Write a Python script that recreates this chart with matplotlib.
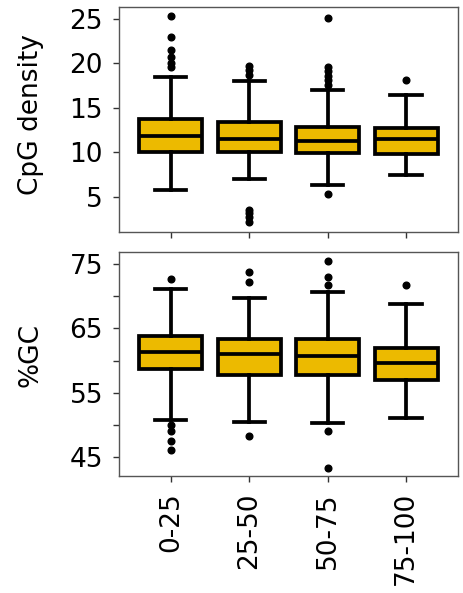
import matplotlib
matplotlib.use("Agg")
import matplotlib.pyplot as plt

# categories (x groups)
groups = ["0-25", "25-50", "50-75", "75-100"]

# CpG density box stats: lower whisker, Q1, median, Q3, upper whisker
cpg_whislo = [5.8, 7.0, 6.4, 7.5]
cpg_q1 = [10.1, 10.0, 9.9, 9.8]
cpg_med = [11.8, 11.5, 11.3, 11.5]
cpg_q3 = [13.8, 13.4, 12.9, 12.8]
cpg_whishi = [18.5, 18.0, 17.0, 16.5]
cpg_fliers = [
    [25.3, 23.0, 21.5, 20.7, 20.0, 19.6],
    [19.7, 19.2, 18.7, 3.6, 3.2, 2.8, 2.2],
    [25.1, 19.6, 19.1, 18.6, 18.1, 17.6, 5.3],
    [18.1],
]

# %GC box stats
gc_whislo = [50.7, 50.4, 50.3, 51.0]
gc_q1 = [58.7, 57.7, 57.7, 56.9]
gc_med = [61.4, 61.0, 60.7, 59.6]
gc_q3 = [63.9, 63.4, 63.4, 62.0]
gc_whishi = [71.2, 69.8, 70.6, 68.8]
gc_fliers = [
    [72.7, 50.0, 49.0, 47.4, 46.0],
    [73.8, 72.3, 48.2],
    [75.5, 73.0, 71.7, 49.0, 43.2],
    [71.8],
]

box_color = "#ECBA00"
fs = 19


def make_stats(lo, q1, med, q3, hi, fl):
    out = []
    for i in range(len(lo)):
        out.append(dict(whislo=lo[i], q1=q1[i], med=med[i], q3=q3[i],
                        whishi=hi[i], fliers=fl[i]))
    return out


def draw(ax, stats):
    lw = 2.7
    ax.bxp(stats, positions=range(1, len(stats) + 1), widths=0.8,
           patch_artist=True, capwidths=0.4,
           boxprops=dict(facecolor=box_color, edgecolor="black", linewidth=lw),
           medianprops=dict(color="black", linewidth=lw),
           whiskerprops=dict(color="black", linewidth=lw),
           capprops=dict(color="black", linewidth=lw),
           flierprops=dict(marker="o", markerfacecolor="black",
                           markeredgecolor="black", markersize=4.8))
    ax.set_xlim(0.34, 4.66)
    for s in ax.spines.values():
        s.set_color("#555555")
        s.set_linewidth(1.0)
    ax.tick_params(axis="both", length=4.5, width=1, color="#333333",
                   labelsize=fs, pad=7)


fig = plt.figure(figsize=(4.63, 5.93), dpi=100)
ax1 = fig.add_axes([0.257, 0.609, 0.732, 0.379])
ax2 = fig.add_axes([0.257, 0.197, 0.732, 0.378])

draw(ax1, make_stats(cpg_whislo, cpg_q1, cpg_med, cpg_q3, cpg_whishi, cpg_fliers))
ax1.set_ylim(1.1, 26.3)
ax1.set_yticks([5, 10, 15, 20, 25])
ax1.set_xticks([1, 2, 3, 4])
ax1.set_xticklabels([])
ax1.set_ylabel("CpG density", fontsize=fs)
ax1.yaxis.set_label_coords(-0.222, 0.52)

draw(ax2, make_stats(gc_whislo, gc_q1, gc_med, gc_q3, gc_whishi, gc_fliers))
ax2.set_ylim(42.0, 76.9)
ax2.set_yticks([45, 50, 55, 60, 65, 70, 75])
ax2.set_yticklabels(["45", "", "55", "", "65", "", "75"])
ax2.set_xticks([1, 2, 3, 4])
ax2.set_xticklabels(groups, rotation=90)
ax2.set_ylabel("%GC", fontsize=fs)
ax2.yaxis.set_label_coords(-0.224, 0.54)

fig.savefig("out.png", dpi=100)
